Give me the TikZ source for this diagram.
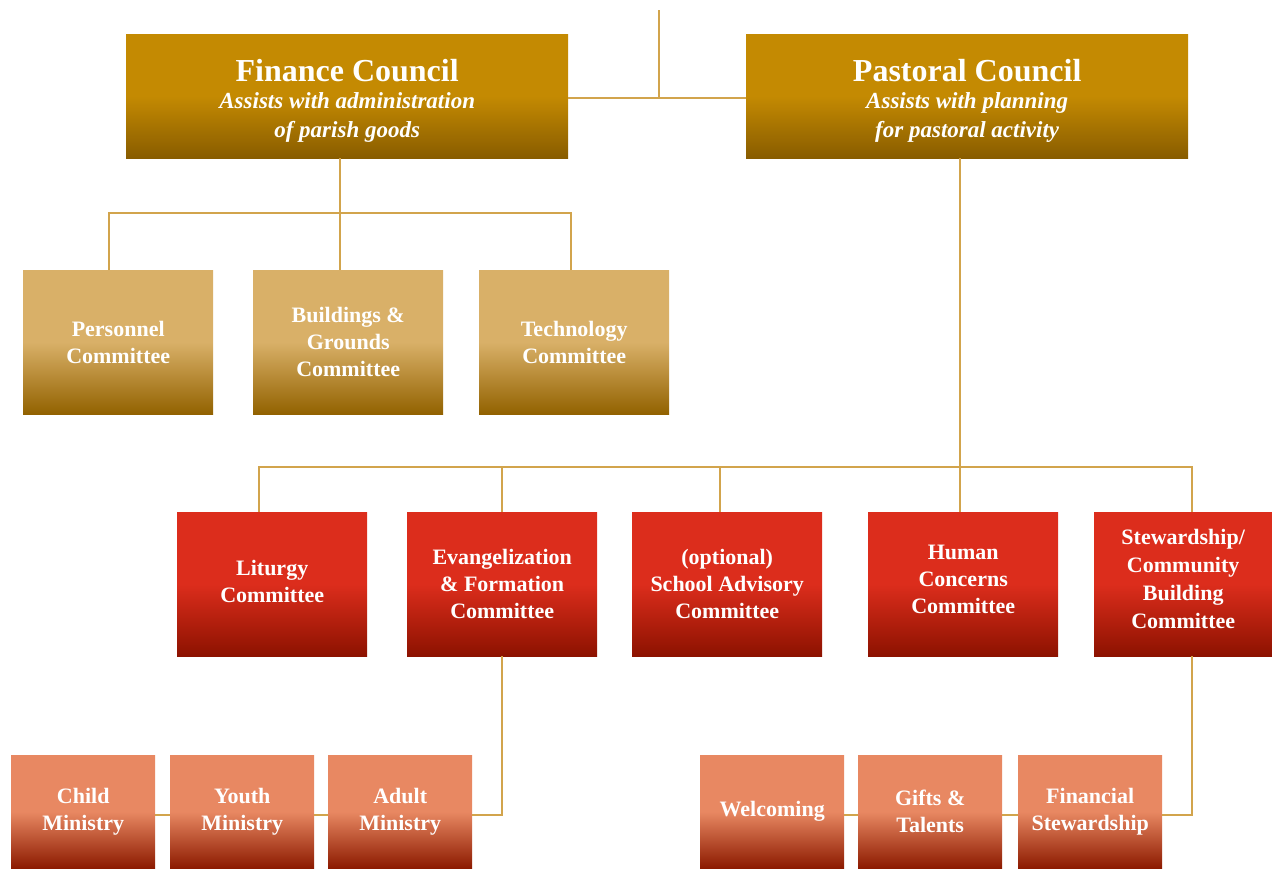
\documentclass[tikz,border=0pt]{standalone}
\usepackage{fontspec}
\setmainfont{Liberation Serif}
\definecolor{cTop}{RGB}{196,138,2}
\definecolor{cBot}{RGB}{136,92,0}
\definecolor{gTop}{RGB}{217,176,104}
\definecolor{gBot}{RGB}{146,98,0}
\definecolor{rTop}{RGB}{220,45,28}
\definecolor{rBot}{RGB}{140,18,0}
\definecolor{sTop}{RGB}{232,136,98}
\definecolor{sBot}{RGB}{140,26,0}
\definecolor{lineC}{RGB}{210,164,76}
\begin{document}
\begin{tikzpicture}[x=1pt,y=-1pt,
  box/.style={draw=none, inner sep=0pt, align=center, text=white, anchor=north west,
    font=\bfseries\fontsize{22}{27}\selectfont},
  council/.style={box, minimum width=442pt, minimum height=124pt,
    top color=cTop, bottom color=cBot, middle color=cTop},
  ctext/.style={inner sep=0pt, align=center, text=white,
    font=\bfseries\fontsize{23}{29}\selectfont},
  fcomm/.style={box, minimum width=190pt, minimum height=144pt,
    top color=gTop, bottom color=gBot, middle color=gTop},
  pcomm/.style={box, minimum width=190pt, minimum height=144pt,
    top color=rTop, bottom color=rBot, middle color=rTop},
  mcomm/.style={box, minimum width=144pt, minimum height=113pt,
    top color=sTop, bottom color=sBot, middle color=sTop},
  conn/.style={draw=lineC, line width=2.6pt}]
\useasboundingbox (0,0) rectangle (1272,873);

% councils
\node[council] (fin) at (126,34) {};
\node[council] (past) at (746,34) {};
\node[ctext] (finT) at ([yshift=-5pt]fin.center) {{\fontsize{32}{32}\selectfont Finance Council}\\[-2pt]\itshape Assists with administration\\\itshape of parish goods};
\node[ctext] (pastT) at ([yshift=-5pt]past.center) {{\fontsize{32}{32}\selectfont Pastoral Council}\\[-2pt]\itshape Assists with planning\\\itshape for pastoral activity};

% finance committees
\node[fcomm] (pers) at (23,270) {Personnel\\Committee};
\node[fcomm] (bld) at (253,270) {Buildings \&\\Grounds\\Committee};
\node[fcomm] (tech) at (479,270) {Technology\\Committee};

% pastoral committees
\node[pcomm] (lit) at (177,512) {Liturgy\\Committee\\[-22pt]};
\node[pcomm] (evan) at (407,512) {Evangelization\\\& Formation\\Committee};
\node[pcomm] (sch) at (632,512) {(optional)\\School Advisory\\Committee};
\node[pcomm] (hum) at (868,512) {Human\\Concerns\\Committee\\[-18pt]};
\node[pcomm, minimum width=178pt, font=\bfseries\fontsize{22}{28}\selectfont] (stew) at (1094,512) {Stewardship/\\Community\\Building\\Committee\\[-17pt]};

% ministries
\node[mcomm] (child) at (11,755) {Child\\Ministry};
\node[mcomm] (youth) at (170,755) {Youth\\Ministry};
\node[mcomm] (adult) at (328,755) {Adult\\Ministry};
\node[mcomm] (welc) at (700,755) {Welcoming};
\node[mcomm] (gift) at (858,755) {Gifts \&\\Talents};
\node[mcomm] (fstw) at (1018,755) {Financial\\Stewardship};

% junction coordinates
\coordinate (top) at (659,10);
\coordinate (tj) at (659,98);
\coordinate (fj) at (340,213);
\coordinate (fL) at (109,213);
\coordinate (fR) at (571,213);
\coordinate (pj) at (960,467);
\coordinate (pL) at (259,467);
\coordinate (pR) at (1192,467);
\coordinate (pE) at (502,467);
\coordinate (pS) at (720,467);
\coordinate (ej) at (502,815);
\coordinate (sj) at (1192,815);

% connectors
\draw[conn] (top) -- (tj);
\draw[conn] (fin.east |- tj) -- (past.west |- tj);
\draw[conn] (fin.south -| fj) -- (bld.north -| fj);
\draw[conn] (pers.north -| fL) -- (fL) -- (fR) -- (tech.north -| fR);
\draw[conn] (past.south -| pj) -- (hum.north -| pj);
\draw[conn] (lit.north -| pL) -- (pL) -- (pR) -- (stew.north -| pR);
\draw[conn] (pE) -- (evan.north -| pE);
\draw[conn] (pS) -- (sch.north -| pS);
\draw[conn] (evan.south -| ej) -- (ej) -- (adult.east |- ej);
\draw[conn] (child.east |- ej) -- (youth.west |- ej);
\draw[conn] (youth.east |- ej) -- (adult.west |- ej);
\draw[conn] (stew.south -| sj) -- (sj) -- (fstw.east |- sj);
\draw[conn] (welc.east |- sj) -- (gift.west |- sj);
\draw[conn] (gift.east |- sj) -- (fstw.west |- sj);
\end{tikzpicture}
\end{document}
